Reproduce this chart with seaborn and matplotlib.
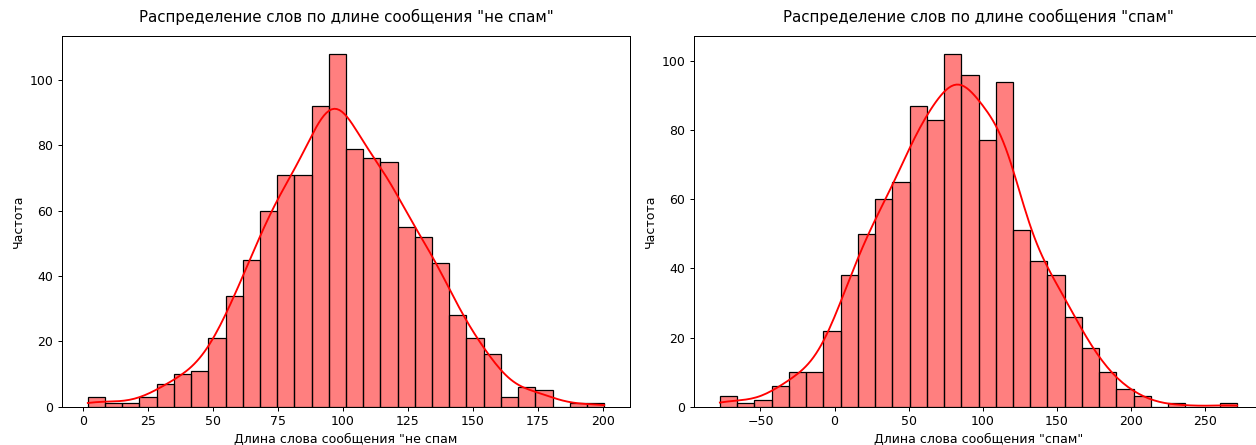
import numpy as np
import pandas as pd
import matplotlib
matplotlib.use("Agg")
import matplotlib.pyplot as plt
import seaborn as sns

# Histogram counts per bin (30 equal-width bins over the observed range)
ham_counts = [3, 1, 1, 3, 7, 10, 11, 21, 34, 45, 60, 71, 71, 92, 108,
              79, 76, 75, 55, 52, 44, 28, 21, 16, 3, 6, 5, 0, 1, 1]
ham_range = [1.85, 200.45]

spam_counts = [3, 1, 2, 6, 10, 10, 22, 38, 50, 60, 65, 87, 83, 102, 96,
               77, 94, 51, 42, 38, 26, 17, 10, 5, 3, 0, 1, 0, 0, 1]
spam_range = [-77.4, 271.7]

titles = ['Распределение слов по длине сообщения "не спам"',
          'Распределение слов по длине сообщения "спам"']
xlabels = ['Длина слова сообщения "не спам',
           'Длина слова сообщения "спам"']
ylabel = 'Частота'


def binned_frame(counts, lo_hi):
    """Bin centres weighted by their counts, plus zero-weight range ends."""
    edges = np.linspace(lo_hi[0], lo_hi[1], len(counts) + 1)
    centres = (edges[:-1] + edges[1:]) / 2
    x = np.concatenate([[lo_hi[0]], centres, [lo_hi[1]]])
    w = np.concatenate([[0], counts, [0]]).astype(float)
    return pd.DataFrame({"x": x, "w": w}), edges.tolist()


def count_bw_adjust(counts):
    """Scale the weighted-KDE bandwidth to the true number of observations."""
    c = np.asarray(counts, dtype=float)
    n_eff = c.sum() ** 2 / (c ** 2).sum()
    return (n_eff / c.sum()) ** 0.2


W, H = 1256, 445
DPI = W / 14.0
fig = plt.figure(figsize=(W / DPI, H / DPI), dpi=DPI)
bottom, top = 406.7, 36.3
ax1 = fig.add_axes([62 / W, (H - bottom) / H, 568 / W, (bottom - top) / H])
ax2 = fig.add_axes([694 / W, (H - bottom) / H, 569 / W, (bottom - top) / H])

for ax, counts, rng, title, xl in [
    (ax1, ham_counts, ham_range, titles[0], xlabels[0]),
    (ax2, spam_counts, spam_range, titles[1], xlabels[1]),
]:
    df, edges = binned_frame(counts, rng)
    sns.histplot(data=df, x="x", weights="w", bins=edges, kde=True,
                 color="red", alpha=0.5, edgecolor="black", linewidth=1,
                 kde_kws={"bw_adjust": count_bw_adjust(counts)}, ax=ax)
    ax.set_title(title, fontsize=12, pad=11.5)
    ax.set_xlabel(xl)
    ax.set_ylabel(ylabel)

fig.savefig("out.png", dpi=DPI)
